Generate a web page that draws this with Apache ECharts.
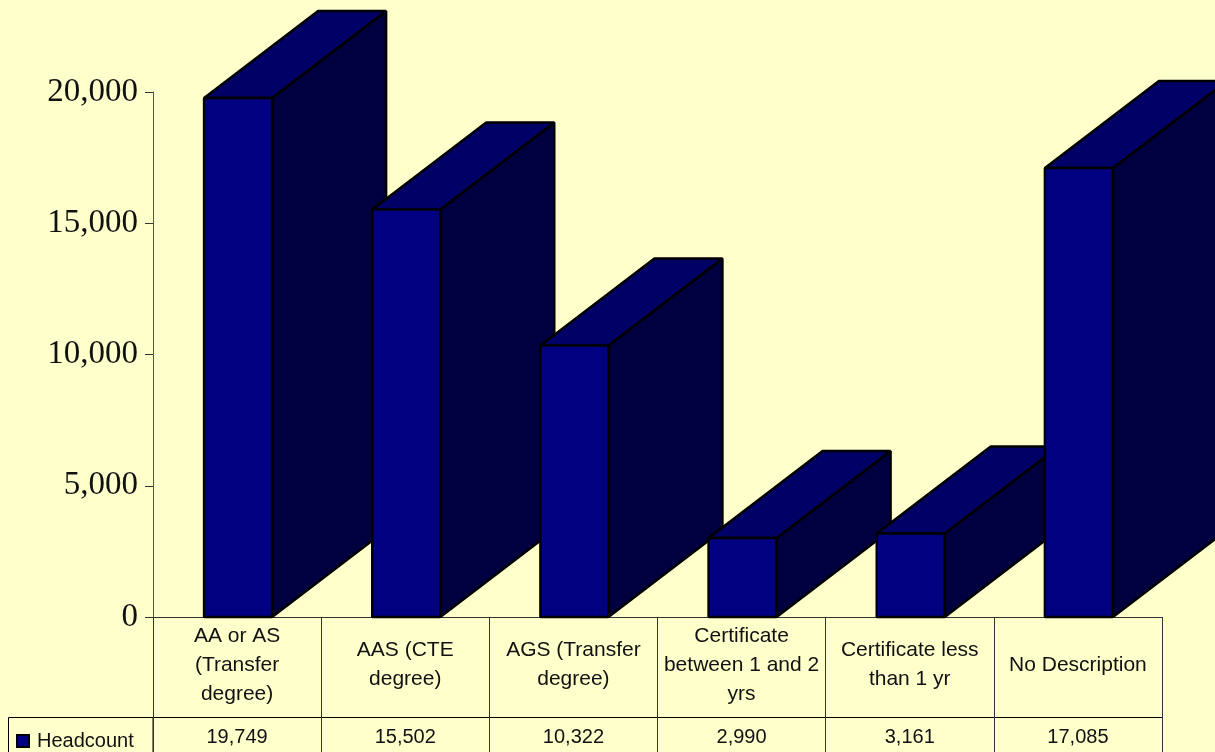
<!DOCTYPE html>
<html><head><meta charset="utf-8">
<style>html,body{margin:0;padding:0;background:#FFFFCC}#c{width:1215px;height:752px}</style>
<script src="https://cdn.jsdelivr.net/npm/echarts@6/dist/echarts.min.js"></script>
</head><body><div id="c"></div>
<script>
const categories = ["AA or AS\n(Transfer\ndegree)","AAS (CTE\ndegree)","AGS (Transfer\ndegree)","Certificate\nbetween 1 and 2\nyrs","Certificate less\nthan 1 yr","No Description"];
const headcount = [19749,15502,10322,2990,3161,17085];
const seriesName = "Headcount";
const valueLabels = headcount.map(v => v.toLocaleString("en-US"));
const chart = echarts.init(document.getElementById('c'), null, {renderer:'canvas'});
const W = 68, DX = 114, DY = 87;
function renderBar(params, api){
  const top = api.coord([api.value(0), api.value(1)]);
  const base = api.coord([api.value(0), 0]);
  const l = top[0] - W/2 + 1, r = l + W, t = top[1] - 0.5, b = base[1];
  const st = c => ({fill:c, stroke:'#000', lineWidth:2.5, lineJoin:'bevel'});
  return {type:'group', children:[
    {type:'polygon', shape:{points:[[r,t],[r+DX,t-DY],[r+DX,b-DY],[r,b]]}, style:st('#000040')},
    {type:'polygon', shape:{points:[[l,t],[l+DX,t-DY],[r+DX,t-DY],[r,t]]}, style:st('#000066')},
    {type:'rect', shape:{x:l,y:t,width:W,height:b-t}, style:st('#000080')}
  ]};
}
const valueFont = {fontFamily:'Liberation Sans', fontSize:20, color:'#111'};
const catFont = {fontFamily:'Liberation Sans', fontSize:21, color:'#111'};
chart.setOption({
  animation:false,
  backgroundColor:'#FFFFCC',
  grid:{left:153, right:53, top:92, bottom:135, containLabel:false},
  legend:{left:11, top:726, itemWidth:12, itemHeight:12, itemGap:0,
    data:[{name:seriesName, icon:'rect'}],
    textStyle:Object.assign({padding:[0,0,0,3]}, valueFont), selectedMode:false},
  xAxis:[
    {type:'category', data:categories, position:'bottom',
      axisLine:{onZero:false, lineStyle:{color:'#333', width:1}},
      axisTick:{show:true, length:135, alignWithLabel:false, lineStyle:{color:'#333', width:1}},
      axisLabel:Object.assign({interval:0, margin:48, verticalAlign:'middle', lineHeight:29, align:'center'}, catFont)},
    {type:'category', data:valueLabels, position:'bottom', offset:100,
      axisLine:{onZero:false, lineStyle:{color:'#000', width:1}},
      axisTick:{show:false},
      axisLabel:Object.assign({interval:0, margin:20, verticalAlign:'middle', align:'center'}, valueFont)}
  ],
  yAxis:{type:'value', min:0, max:20000, interval:5000,
    axisLine:{show:true, lineStyle:{color:'#555', width:1}},
    axisTick:{show:true, length:8, lineStyle:{color:'#333', width:1}},
    splitLine:{show:false},
    axisLabel:{fontFamily:'Liberation Serif', fontSize:33, color:'#111', margin:15,
      formatter:v=>v.toLocaleString("en-US")}},
  graphic:[{type:'rect', z:0, shape:{x:8.5,y:717.5,width:144.5,height:40},
    style:{fill:'transparent', stroke:'#000', lineWidth:1}}],
  series:[{name:seriesName, type:'custom', xAxisIndex:0, yAxisIndex:0, clip:false,
    renderItem:renderBar, itemStyle:{color:'#000080', borderColor:'#000', borderWidth:1},
    encode:{x:0,y:1},
    data:headcount.map((v,i)=>[i,v])}]
});
</script></body></html>
